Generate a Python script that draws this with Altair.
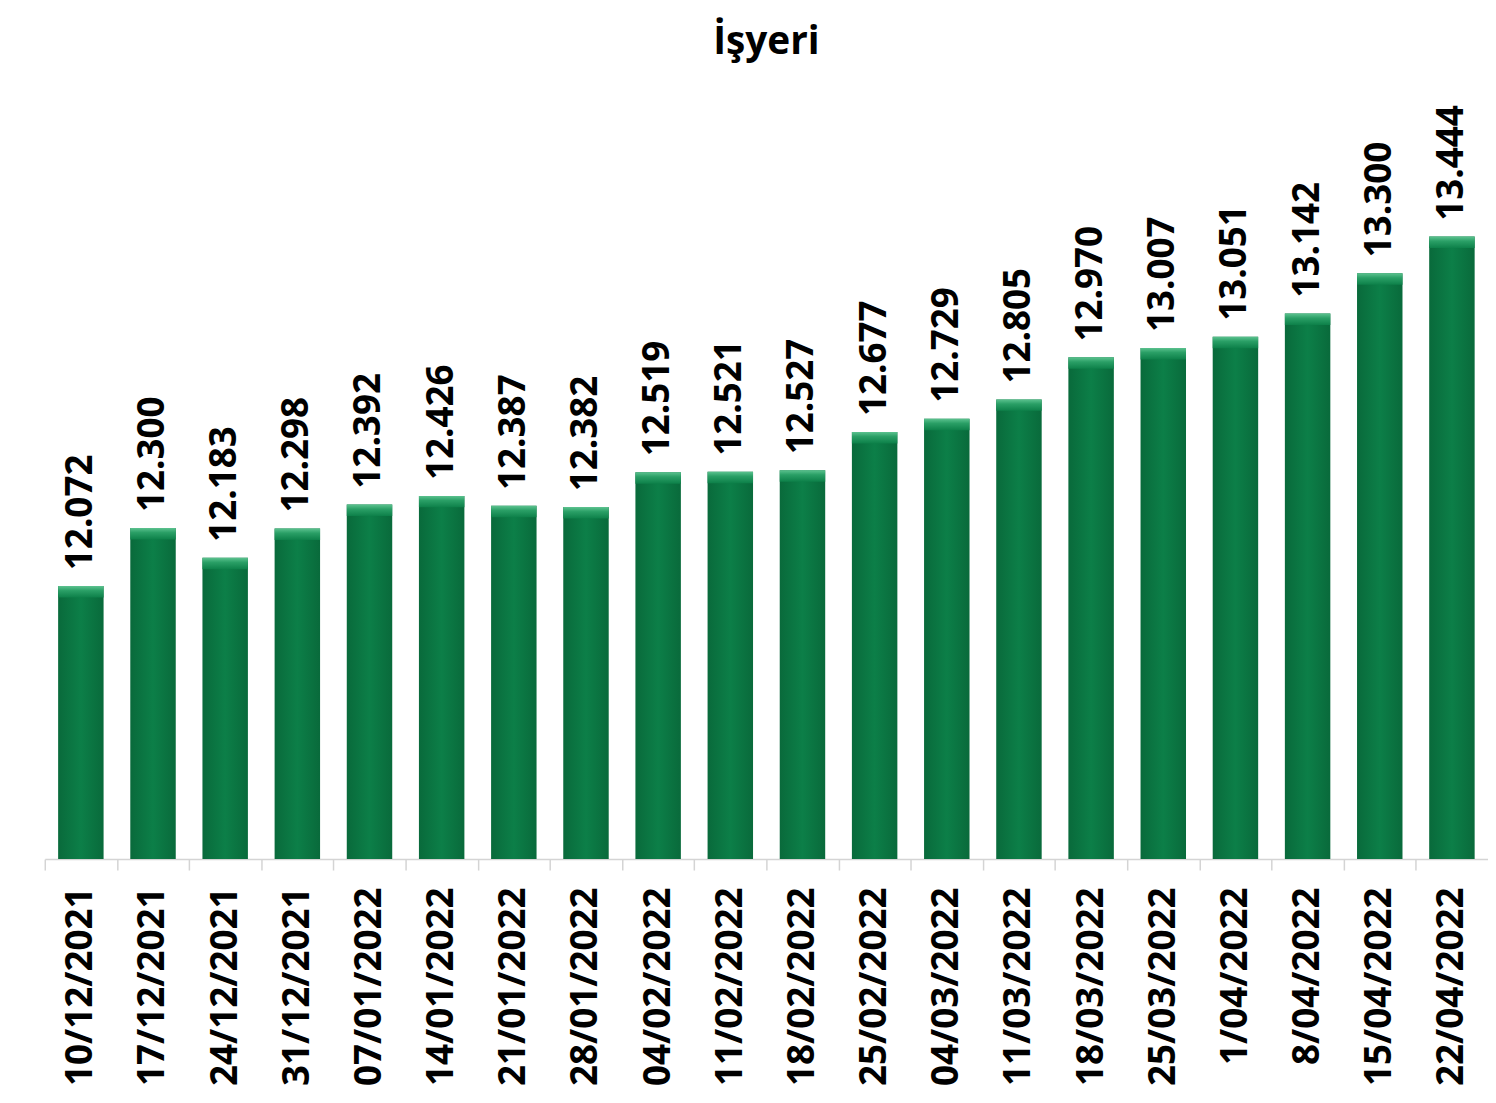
import altair as alt
import pandas as pd

dates = ["10/12/2021", "17/12/2021", "24/12/2021", "31/12/2021", "07/01/2022",
         "14/01/2022", "21/01/2022", "28/01/2022", "04/02/2022", "11/02/2022",
         "18/02/2022", "25/02/2022", "04/03/2022", "11/03/2022", "18/03/2022",
         "25/03/2022", "1/04/2022", "8/04/2022", "15/04/2022", "22/04/2022"]
values = [12.072, 12.300, 12.183, 12.298, 12.392, 12.426, 12.387, 12.382, 12.519, 12.521,
          12.527, 12.677, 12.729, 12.805, 12.970, 13.007, 13.051, 13.142, 13.300, 13.444]
labels = ["12.072", "12.300", "12.183", "12.298", "12.392", "12.426", "12.387", "12.382",
          "12.519", "12.521", "12.527", "12.677", "12.729", "12.805", "12.970", "13.007",
          "13.051", "13.142", "13.300", "13.444"]

df = pd.DataFrame({"date": dates, "value": values, "label": labels})

FONT = "Open Sans"
W = 1452
H = 779
n = len(dates)
step = W / n

xscale = alt.Scale(paddingInner=0.37, paddingOuter=0.185)
yscale = alt.Scale(domain=[11.0, 14.04], nice=False, zero=False)

x = alt.X("date:N", sort=dates, scale=xscale, title=None,
          axis=alt.Axis(labelAngle=270, labelFont=FONT, labelFontSize=37, labelFontWeight="bold",
                        labelColor="black", domainColor="#d4d4d4", domainWidth=1.5,
                        tickColor="#d4d4d4", tickSize=11, tickWidth=1.5, labelLimit=0,
                        tickOffset=-step / 2, labelOffset=step / 2, labelPadding=17))

base = alt.Chart(df)

bars = base.mark_bar(
    clip=True,
    color=alt.Gradient(gradient="linear", x1=0, y1=0, x2=1, y2=0,
                       stops=[alt.GradientStop(offset=0, color="#096a3b"),
                              alt.GradientStop(offset=0.5, color="#0c7f48"),
                              alt.GradientStop(offset=1, color="#096a3b")])
).encode(
    x=x,
    y=alt.Y("value:Q", scale=yscale, axis=None),
)

caps = base.transform_calculate(cap="datum.value - 0.045").mark_bar(
    color=alt.Gradient(gradient="linear", x1=0, y1=0, x2=0, y2=1,
                       stops=[alt.GradientStop(offset=0, color="#5cc28f"),
                              alt.GradientStop(offset=0.4, color="#2a9f66"),
                              alt.GradientStop(offset=1, color="#0d8049")])
).encode(
    x=alt.X("date:N", sort=dates, scale=xscale),
    y=alt.Y("value:Q", scale=yscale),
    y2="cap:Q",
)

text = base.mark_text(angle=270, align="left", baseline="middle", dx=16,
                      font=FONT, fontSize=37, fontWeight="bold", color="black").encode(
    x=alt.X("date:N", sort=dates, scale=xscale),
    y=alt.Y("value:Q", scale=yscale),
    text="label:N",
)

chart = alt.layer(bars, caps, text).properties(
    width=W, height=H,
    title=alt.TitleParams("İşyeri", font=FONT, fontSize=39, fontWeight="bold",
                          color="black", anchor="middle", offset=23),
    padding={"left": 36, "top": 12, "right": 0, "bottom": 0},
).configure_view(stroke=None)

chart.save("out.html", embed_options={"renderer": "svg", "actions": False})
